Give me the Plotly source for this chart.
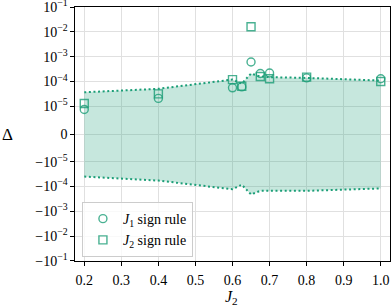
import numpy as np
import plotly.graph_objects as go

# ---- data ----
J2_values = [0.2, 0.4, 0.6, 0.625, 0.65, 0.675, 0.7, 0.8, 1.0]
delta_J1_rule = [8.9e-6, 2.1e-5, 5.6e-5, 6.1e-5, 6.1e-4, 2.1e-4, 2.2e-4, 1.4e-4, 1.3e-4]
delta_J2_rule = [1.3e-5, 3.2e-5, 1.2e-4, 6.5e-5, 1.6e-2, 1.6e-4, 1.3e-4, 1.5e-4, 1.0e-4]
band_upper = [3.7e-5, 5.1e-5, 1.2e-4, 8.3e-5, 2.1e-4, 1.6e-4, 1.5e-4, 1.4e-4, 1.1e-4]
band_lower = [-4.0e-5, -5.8e-5, -1.3e-4, -8.5e-5, -2.1e-4, -1.5e-4, -1.5e-4, -1.5e-4, -1.2e-4]

x_ticks = [0.2, 0.3, 0.4, 0.5, 0.6, 0.7, 0.8, 0.9, 1.0]
x_ticklabels = ["0.2", "0.3", "0.4", "0.5", "0.6", "0.7", "0.8", "0.9", "1.0"]
y_tick_values = [1e-1, 1e-2, 1e-3, 1e-4, 1e-5, 0, -1e-5, -1e-4, -1e-3, -1e-2, -1e-1]
y_ticklabels = ["10<sup>−1</sup>", "10<sup>−2</sup>", "10<sup>−3</sup>", "10<sup>−4</sup>",
                "10<sup>−5</sup>", "0", "−10<sup>−5</sup>", "−10<sup>−4</sup>",
                "−10<sup>−3</sup>", "−10<sup>−2</sup>", "−10<sup>−1</sup>"]

# ---- symlog scale (linthresh 1e-5, linscale 1, base 10) ----
LINTHRESH = 1e-5
LINSCALE_ADJ = 1.0 / (1.0 - 1.0 / 10.0)


def symlog(v):
    v = np.asarray(v, dtype=float)
    a = np.abs(v)
    out = np.where(a <= LINTHRESH,
                   v / LINTHRESH * LINSCALE_ADJ,
                   np.sign(v) * (LINSCALE_ADJ + np.log10(np.maximum(a, 1e-300) / LINTHRESH)))
    return out


TEAL = "#1b9e77"
MARK = "rgba(27,158,119,0.8)"
FONT = "Liberation Serif"

fig = go.Figure()

fig.add_trace(go.Scatter(x=J2_values, y=symlog(band_lower), mode="lines",
                         line=dict(color=TEAL, width=2, dash="2px,2.6px"),
                         showlegend=False, hoverinfo="skip"))
fig.add_trace(go.Scatter(x=J2_values, y=symlog(band_upper), mode="lines",
                         line=dict(color=TEAL, width=2, dash="2px,2.6px"),
                         fill="tonexty", fillcolor="rgba(27,158,119,0.25)",
                         showlegend=False, hoverinfo="skip"))

fig.add_trace(go.Scatter(x=J2_values, y=symlog(delta_J1_rule), mode="markers",
                         name="<i>J</i><sub>1</sub> sign rule",
                         marker=dict(symbol="circle-open", size=8, color=MARK,
                                     line=dict(color=MARK, width=1.4))))
fig.add_trace(go.Scatter(x=J2_values, y=symlog(delta_J2_rule), mode="markers",
                         name="<i>J</i><sub>2</sub> sign rule",
                         marker=dict(symbol="square-open", size=8, color=MARK,
                                     line=dict(color=MARK, width=1.4))))

ymax = float(symlog([1e-1])[0])

fig.update_layout(
    width=392, height=308,
    margin=dict(l=75, r=2, t=7, b=47),
    paper_bgcolor="white", plot_bgcolor="white",
    font=dict(family=FONT, size=14, color="black"),
    showlegend=True,
    legend=dict(x=0.022, y=0.232, xanchor="left", yanchor="top", traceorder="normal",
                bgcolor="rgba(255,255,255,0.8)", bordercolor="#cccccc", borderwidth=1,
                font=dict(family=FONT, size=14), tracegroupgap=0),
    xaxis=dict(range=[0.175, 1.025], tickvals=x_ticks, ticktext=x_ticklabels,
               showgrid=True, gridcolor="#e0e0e0", gridwidth=1,
               showline=True, linecolor="black", linewidth=1.2, mirror=True,
               ticks="outside", ticklen=3.5, tickwidth=1, tickcolor="black",
               ticklabelstandoff=3, ticklabeloverflow="allow",
               zeroline=False, tickfont=dict(family=FONT, size=14), automargin=False),
    yaxis=dict(range=[-ymax * 1.0001, ymax * 1.0001], tickvals=list(symlog(y_tick_values)),
               ticktext=y_ticklabels, ticklabeloverflow="allow",
               showgrid=True, gridcolor="#e0e0e0", gridwidth=1,
               showline=True, linecolor="black", linewidth=1.2, mirror=True,
               ticks="outside", ticklen=3.5, tickwidth=1, tickcolor="black",
               zeroline=False, tickfont=dict(family=FONT, size=14), automargin=False),
    annotations=[
        dict(text="Δ", xref="paper", yref="paper", x=-0.213, y=0.5,
             showarrow=False, font=dict(family=FONT, size=17), xanchor="center", yanchor="middle"),
        dict(text="<i>J</i><sub>2</sub>", xref="paper", yref="paper", x=0.498, y=-0.142,
             showarrow=False, font=dict(family=FONT, size=16), xanchor="center", yanchor="middle"),
    ],
)

fig.write_html("out.html", config={"displayModeBar": False},
               post_script="document.body.style.margin='0px';")
